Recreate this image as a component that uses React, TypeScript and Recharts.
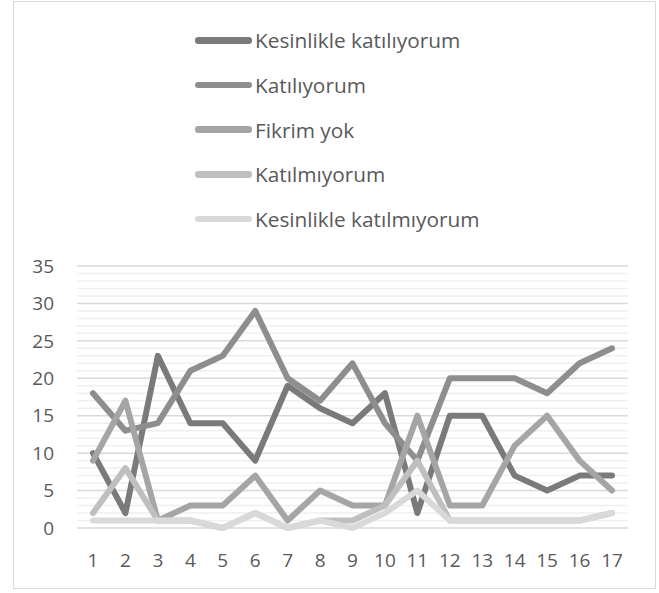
import { LineChart, Line, XAxis, YAxis, CartesianGrid } from 'recharts';

const categories = ['1', '2', '3', '4', '5', '6', '7', '8', '9', '10', '11', '12', '13', '14', '15', '16', '17'];

const seriesNames = [
  'Kesinlikle katılıyorum',
  'Katılıyorum',
  'Fikrim yok',
  'Katılmıyorum',
  'Kesinlikle katılmıyorum',
];
const seriesColors = ['#7a7a7a', '#8e8e8e', '#a5a5a5', '#bfbfbf', '#d9d9d9'];

const kesinlikleKatiliyorum = [10, 2, 23, 14, 14, 9, 19, 16, 14, 18, 2, 15, 15, 7, 5, 7, 7];
const katiliyorum = [18, 13, 14, 21, 23, 29, 20, 17, 22, 14, 9, 20, 20, 20, 18, 22, 24];
const fikrimYok = [9, 17, 1, 3, 3, 7, 1, 5, 3, 3, 15, 3, 3, 11, 15, 9, 5];
const katilmiyorum = [2, 8, 1, 1, 0, 2, 0, 1, 1, 3, 9, 1, 1, 1, 1, 1, 2];
const kesinlikleKatilmiyorum = [1, 1, 1, 1, 0, 2, 0, 1, 0, 2, 5, 1, 1, 1, 1, 1, 2];

const majorTicks = [0, 5, 10, 15, 20, 25, 30, 35];
const minorTicks = Array.from({ length: 36 }, (_, i) => i).filter((v) => v % 5 !== 0);

const allSeries = [kesinlikleKatiliyorum, katiliyorum, fikrimYok, katilmiyorum, kesinlikleKatilmiyorum];

const data = categories.map((c, i) => {
  const row: Record<string, string | number> = { cat: c };
  seriesNames.forEach((name, s) => {
    row[name] = allSeries[s][i];
  });
  return row;
});

const font = '"Open Sans", sans-serif';
const textColor = '#595959';

function ChartLegend() {
  return (
    <div style={{ position: 'absolute', left: 195, top: 18, fontFamily: font }}>
      {seriesNames.map((name, i) => (
        <div key={name} style={{ display: 'flex', alignItems: 'center', height: 44.7 }}>
          <div
            style={{
              width: 57,
              height: 6.5,
              borderRadius: 3.25,
              background: seriesColors[i],
              marginRight: 3,
            }}
          />
          <span style={{ fontSize: 20.8, color: textColor }}>{name}</span>
        </div>
      ))}
    </div>
  );
}

export default function App() {
  return (
    <div style={{ position: 'absolute', left: 0, top: 0, width: 659, height: 593, background: '#fff' }}>
      <div
        style={{
          position: 'absolute',
          left: 13,
          top: 1,
          width: 643,
          height: 588,
          border: '1.5px solid #d9d9d9',
          boxSizing: 'border-box',
        }}
      />
      <ChartLegend />
      <div style={{ position: 'absolute', left: 0, top: 0 }}>
        <LineChart
          width={659}
          height={593}
          data={data}
          margin={{ top: 266, right: 31, left: 17, bottom: 0 }}
        >
          <CartesianGrid
            vertical={false}
            horizontalValues={minorTicks}
            stroke="#efefef"
            strokeWidth={1.5}
          />
          <CartesianGrid vertical={false} stroke="#d9d9d9" strokeWidth={1.5} />
          <XAxis
            dataKey="cat"
            axisLine={false}
            tickLine={false}
            tickSize={0}
            tickMargin={26}
            height={65}
            interval={0}
            padding={{ left: 16, right: 16 }}
            tick={{ fill: textColor, fontSize: 19, fontFamily: font }}
          />
          <YAxis
            domain={[0, 35]}
            ticks={majorTicks}
            interval={0}
            axisLine={false}
            tickLine={false}
            tickSize={0}
            tickMargin={23}
            width={60}
            tick={{ fill: textColor, fontSize: 19, fontFamily: font }}
          />
          {seriesNames.map((name, i) => (
            <Line
              key={name}
              type="linear"
              dataKey={name}
              stroke={seriesColors[i]}
              strokeWidth={6}
              strokeLinecap="round"
              strokeLinejoin="round"
              dot={false}
              activeDot={false}
              isAnimationActive={false}
            />
          ))}
        </LineChart>
      </div>
    </div>
  );
}
